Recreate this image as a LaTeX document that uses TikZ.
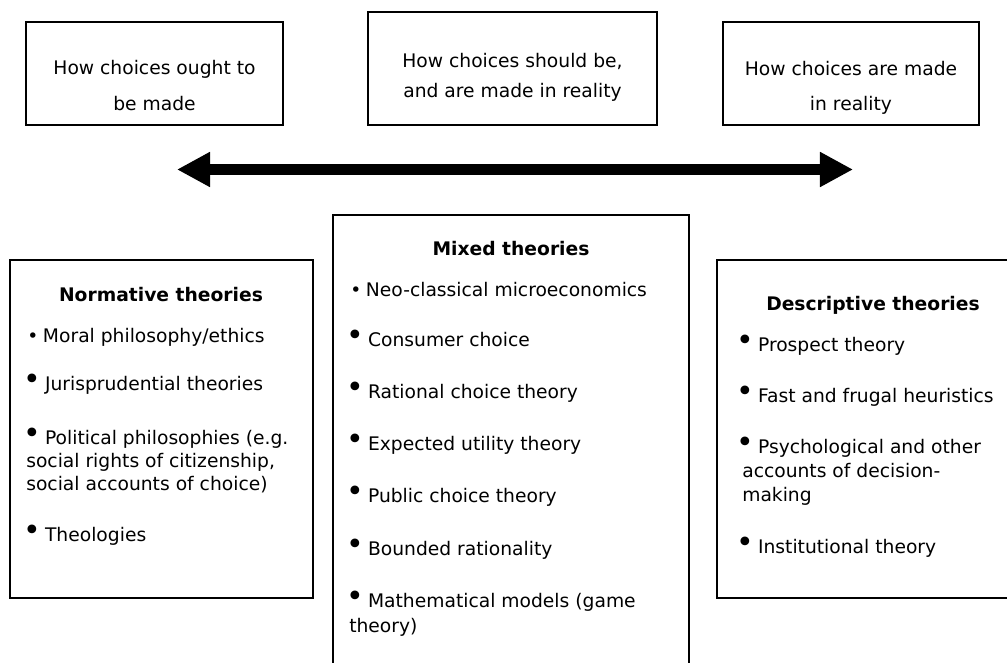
\documentclass[tikz,border=0pt]{standalone}
\usepackage{fontspec}
\setmainfont{DejaVu Sans}
\usetikzlibrary{arrows.meta}

\newcommand{\dotbul}{\textbullet\hspace{0.25em}}
\newcommand{\bigbul}{\makebox[0.95em][l]{\hspace{-0.22em}\raisebox{0.1ex}{\scalebox{1.6}{\textbullet}}}}

\tikzset{
  framebox/.style={draw, rectangle, line width=1.3pt, inner sep=0pt},
  topline/.style={inner sep=0pt, anchor=mid},
  headline/.style={inner sep=0pt, anchor=mid, font=\fontsize{13.3}{16}\selectfont\bfseries},
  itemline/.style={inner sep=0pt, anchor=mid west},
}

\begin{document}
\begin{tikzpicture}[x=0.025cm, y=-0.025cm, font=\fontsize{13.3}{16}\selectfont]
    \useasboundingbox (0,0) rectangle (1007,663);
    \clip (0,0) rectangle (1007,663);
    \fill[white] (0,0) rectangle (1007,663);

    % top boxes
    \node (ought) [framebox, minimum width=6.425cm, minimum height=2.575cm] at (154.5,73.5) {};
    \node (should) [framebox, minimum width=7.225cm, minimum height=2.825cm] at (512.5,68.5) {};
    \node (made) [framebox, minimum width=6.4cm, minimum height=2.575cm] at (851,73.5) {};

    \node (ought1) [topline] at (154.5,71) {How choices ought to};
    \node (ought2) [topline] at (154.5,107) {be made};
    \node (should1) [topline] at (512.5,64) {How choices should be,};
    \node (should2) [topline] at (512.5,94) {and are made in reality};
    \node (made1) [topline] at (851,72) {How choices are made};
    \node (made2) [topline] at (851,107) {in reality};

    % the scale between them
    \coordinate (scaleleft) at (177,169.5);
    \coordinate (scaleright) at (853,169.5);
    \draw[line width=8.5pt, {Triangle[length=23.5pt,width=23.5pt]}-{Triangle[length=23.5pt,width=23.5pt]}] (scaleleft) -- (scaleright);

    % theory boxes
    \node (normative) [framebox, minimum width=7.575cm, minimum height=8.45cm] at (161.5,429) {};
    \node (mixed) [framebox, minimum width=8.9cm, minimum height=12.125cm] at (511,457.5) {};
    \node (descriptive) [framebox, minimum width=7.825cm, minimum height=8.45cm] at (873.5,429) {};

    % normative
    \node (normhead) [headline] at (161,298) {Normative theories};
    \node (norm1) [itemline] at (27,339) {\dotbul Moral philosophy/ethics};
    \node (norm2) [itemline] at (27,387) {\bigbul Jurisprudential theories};
    \node (norm3) [itemline] at (27,441) {\bigbul Political philosophies (e.g.};
    \node (norm3b) [itemline] at (26,464) {social rights of citizenship,};
    \node (norm3c) [itemline] at (26,487) {social accounts of choice)};
    \node (norm4) [itemline] at (27,538) {\bigbul Theologies};

    % mixed
    \node (mixhead) [headline] at (511,252) {Mixed theories};
    \node (mix1) [itemline] at (350,293) {\dotbul Neo-classical microeconomics};
    \node (mix2) [itemline] at (350,343) {\bigbul Consumer choice};
    \node (mix3) [itemline] at (350,395) {\bigbul Rational choice theory};
    \node (mix4) [itemline] at (350,447) {\bigbul Expected utility theory};
    \node (mix5) [itemline] at (350,499) {\bigbul Public choice theory};
    \node (mix6) [itemline] at (350,552) {\bigbul Bounded rationality};
    \node (mix7) [itemline] at (350,604) {\bigbul Mathematical models (game};
    \node (mix7b) [itemline] at (349,629) {theory)};

    % descriptive
    \node (deschead) [headline] at (873,307) {Descriptive theories};
    \node (desc1) [itemline] at (740,348) {\bigbul Prospect theory};
    \node (desc2) [itemline] at (740,399) {\bigbul Fast and frugal heuristics};
    \node (desc3) [itemline] at (740,450) {\bigbul Psychological and other};
    \node (desc3b) [itemline] at (742,474) {accounts of decision-};
    \node (desc3c) [itemline] at (742,498) {making};
    \node (desc4) [itemline] at (740,550) {\bigbul Institutional theory};
\end{tikzpicture}
\end{document}
